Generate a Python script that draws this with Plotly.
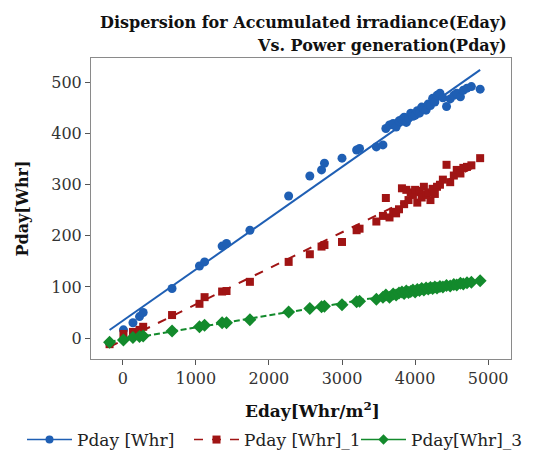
import numpy as np
import plotly.graph_objects as go

# ---- data ----
eday = [-180, 10, 140, 230, 280, 675, 1050, 1120, 1360, 1420, 1740, 2270, 2560, 2720, 2760,
        3000, 3200, 3240, 3470, 3560, 3600, 3650, 3700, 3740, 3780, 3820, 3850, 3880, 3910,
        3940, 3970, 4000, 4030, 4060, 4090, 4120, 4150, 4180, 4210, 4240, 4270, 4300, 4340,
        4380, 4430, 4480, 4530, 4570, 4620, 4660, 4710, 4770, 4890]

pday = [-10, 16, 30, 42, 50, 97, 141, 149, 180, 185, 211, 278, 317, 329, 342,
        352, 368, 371, 374, 378, 410, 417, 420, 413, 425, 428, 432, 422, 430,
        440, 434, 436, 445, 440, 452, 448, 446, 458, 455, 469, 462, 475, 479,
        470, 453, 468, 475, 479, 472, 485, 489, 492, 487]

pday_1 = [-12, 8, 12, 16, 22, 45, 67, 80, 91, 92, 110, 149, 164, 179, 182,
          188, 211, 214, 228, 239, 274, 236, 247, 244, 252, 293, 262, 290, 270,
          285, 280, 290, 265, 288, 275, 296, 280, 285, 270, 292, 282, 296, 300,
          310, 339, 305, 318, 329, 322, 333, 335, 338, 352]

pday_3 = [-8, -4, 1, 3, 4, 14, 22, 25, 30, 30, 36, 51, 58, 61, 62,
          65, 71, 72, 76, 80, 84, 80, 86, 84, 88, 90, 87, 92, 89,
          91, 94, 90, 95, 93, 97, 94, 98, 96, 99, 97, 100, 98, 101,
          100, 103, 102, 105, 104, 107, 106, 108, 109, 112]

series_names = ["Pday [Whr]", "Pday [Whr]_1", "Pday[Whr]_3"]
x_ticks = [0, 1000, 2000, 3000, 4000, 5000]
y_ticks = [0, 100, 200, 300, 400, 500]
title_lines = ["Dispersion for Accumulated irradiance(Eday)", "Vs. Power generation(Pday)"]

# ---- styles ----
colors = ["#1f5fb4", "#a01414", "#138a2c"]
symbols = ["circle", "square", "diamond"]
msizes = [9, 8, 10]
dashes = ["solid", "dash", "6px,3px"]
legend_dashes = ["solid", "dash", "solid"]

SERIF = "DejaVu Serif"
W, H = 531, 451          # page body has an 8px margin in the 539x459 window
L, R, T, B = 83, 28, 50, 100
plot_w = W - L - R
plot_h = H - T - B

fig = go.Figure()
x = np.array(eday, dtype=float)
xs = np.array([x.min(), x.max()])
for ys, name, c, sym, ms, d, ld in zip([pday, pday_1, pday_3], series_names, colors,
                                        symbols, msizes, dashes, legend_dashes):
    y = np.array(ys, dtype=float)
    k, b = np.polyfit(x, y, 1)
    fig.add_trace(go.Scatter(x=xs, y=k * xs + b, mode="lines",
                             line=dict(color=c, width=2, dash=d),
                             showlegend=False, hoverinfo="skip"))
    fig.add_trace(go.Scatter(x=x, y=y, mode="markers",
                             marker=dict(color=c, symbol=sym, size=ms),
                             showlegend=False, name=name))
    fig.add_trace(go.Scatter(x=[None], y=[None], mode="lines+markers", name=name,
                             line=dict(color=c, width=1.5, dash=ld),
                             marker=dict(color=c, symbol=sym, size=8)))

axis_common = dict(showgrid=False, zeroline=False, showline=True, linecolor="#8a8a8a",
                   linewidth=1, mirror=True, ticks="outside", ticklen=5,
                   tickcolor="#555", tickfont=dict(family=SERIF, size=16, color="#333"))

def px_(xpix):
    return (xpix - L) / plot_w

def py(ypix):
    """figure pixel row -> paper y"""
    return (H - B - ypix) / plot_h

annotations = [
    dict(text="<b>%s</b>" % title_lines[0], xref="paper", yref="paper",
         x=px_(501), y=py(14), xanchor="right", yanchor="middle",
         showarrow=False, font=dict(family=SERIF, size=16, color="#111")),
    dict(text="<b>%s</b>" % title_lines[1], xref="paper", yref="paper",
         x=px_(501), y=py(37), xanchor="right", yanchor="middle",
         showarrow=False, font=dict(family=SERIF, size=16, color="#111")),
    dict(text="<b>Eday[Whr/m<sup>2</sup>]</b>", xref="paper", yref="paper",
         x=px_(304), y=py(402), xanchor="center", yanchor="middle",
         showarrow=False, font=dict(family=SERIF, size=17, color="#111")),
]

fig.update_layout(
    width=W, height=H,
    margin=dict(l=L, r=R, t=T, b=B, autoexpand=False),
    paper_bgcolor="white", plot_bgcolor="white",
    xaxis=dict(range=[-434, 5312], tickvals=x_ticks, **axis_common),
    yaxis=dict(range=[-41, 548], tickvals=y_ticks,
               title=dict(text="<b>Pday[Whr]</b>", font=dict(family=SERIF, size=16, color="#111"),
                          standoff=18),
               **axis_common),
    legend=dict(orientation="h", xref="paper", yref="paper",
                x=px_(14), xanchor="left", y=py(432), yanchor="middle",
                font=dict(family=SERIF, size=17, color="#222"),
                itemwidth=45, entrywidthmode="pixels", entrywidth=107,
                bgcolor="rgba(0,0,0,0)"),
    annotations=annotations,
)

fig.write_html("out.html")
